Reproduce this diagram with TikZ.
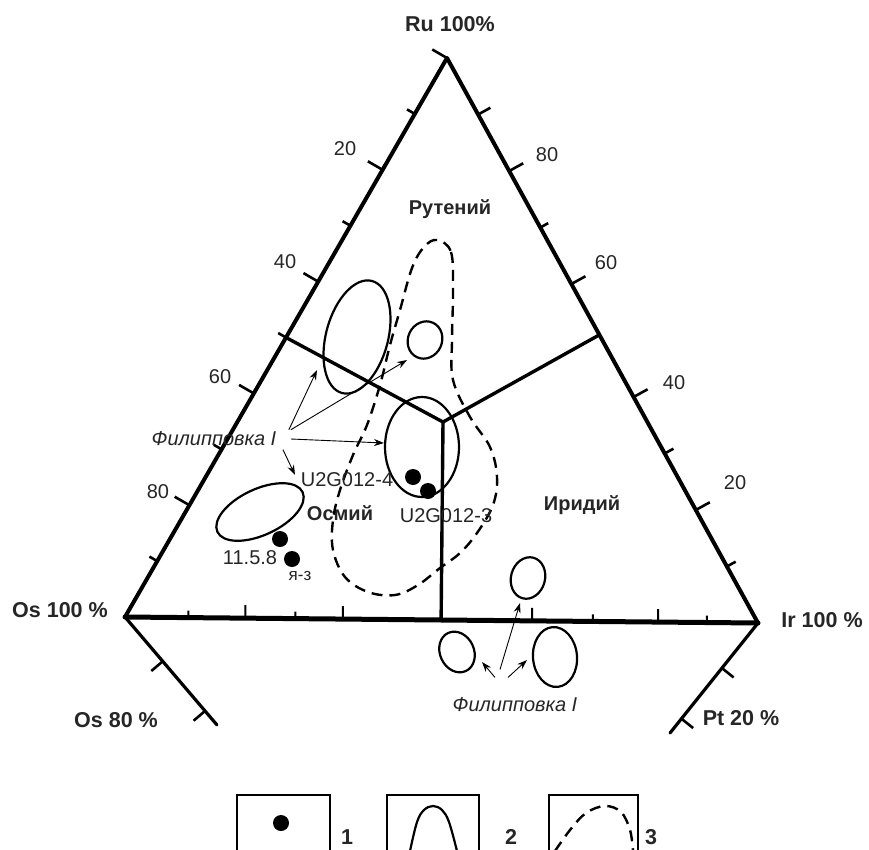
\documentclass[tikz,border=0pt]{standalone}
\usepackage{fontspec}
\setmainfont{Liberation Sans}
\usetikzlibrary{arrows.meta,calc}

\begin{document}
\begin{tikzpicture}[x=1pt,y=-1pt]
        \useasboundingbox (0,0) rectangle (869,850);
        \tikzstyle{every node}=[font=\fontsize{20}{22}\selectfont,text=black!85]
        \tikzset{axis/.style = {line width=4pt,line cap=round,line join=round}}
        \tikzset{border/.style = {line width=3.4pt}}
        \tikzset{tickbig/.style = {line width=2.6pt}}
        \tikzset{ticksmall/.style = {line width=2pt}}
        \tikzset{field/.style = {line width=2.2pt}}
        \tikzset{dashfield/.style = {line width=2.4pt,dash pattern=on 11pt off 7pt}}
        \tikzset{dot/.style = {shape=circle,fill=black,inner sep=0pt,minimum size=16pt}}
        \tikzset{region/.style = {font=\fontsize{20}{22}\selectfont\bfseries}}
        \tikzset{apex/.style = {font=\fontsize{21.5}{22}\selectfont\bfseries}}
        \tikzset{locality/.style = {font=\fontsize{20}{22}\selectfont\itshape}}
        \tikzset{edge/.style = {line width=0.9pt,-{Stealth[length=10pt,width=7pt]}}}
        % vertices
        \coordinate (ru) at (447,58);
        \coordinate (os) at (125,617);
        \coordinate (ir) at (758,623);
        \coordinate (cen) at (443,422);
        \coordinate (ostail) at (217,725);
        \coordinate (irtail) at (670,733);
        % triangle
        \draw[axis] (os) -- (ru) -- (ir);
        \draw[axis,line width=5pt] (os) -- (ir);
        \draw[axis,line width=3.2pt] (os) -- (ostail);
        \draw[axis,line width=3.2pt] (ir) -- (irtail);
        % ticks
        \foreach \t/\l in {0/17,0.1/9,0.2/17,0.3/9,0.4/17,0.5/9,0.6/17,0.7/9,0.8/17,0.9/9} {
          \path ($(ru)!\t!(os)$) coordinate (p);
          \draw[tickbig] (p) -- ($(p)!\l pt!-90:(os)$);
        }
        \foreach \t/\l in {0.1/14,0.2/16,0.3/9,0.4/16,0.6/16,0.7/10,0.8/16,0.9/10} {
          \path ($(ru)!\t!(ir)$) coordinate (p);
          \draw[tickbig] (p) -- ($(p)!\l pt!90:(ir)$);
        }
        \foreach \t/\l in {0.1/7,0.19/13,0.269/7,0.344/13,0.643/13,0.739/7,0.842/13,0.919/7} {
          \path ($(os)!\t!(ir)$) coordinate (p);
          \draw[ticksmall] (p) -- ($(p)!\l pt!90:(ir)$);
        }
        \foreach \t in {0.41,0.87} {
          \path ($(os)!\t!(ostail)$) coordinate (p);
          \draw[tickbig] (p) -- ($(p)!15pt!-90:(ostail)$);
          \path ($(ir)!\t!(irtail)$) coordinate (p);
          \draw[tickbig] (p) -- ($(p)!15pt!90:(irtail)$);
        }
        % field boundaries
        \draw[border] ($(ru)!0.5!(os)$) -- (cen);
        \draw[border] ($(ru)!0.49!(ir)$) -- (cen);
        \draw[border] (cen) -- ($(os)!(cen)!(ir)$);
        % axis labels
        \node[apex] (lru) at (450,24) {Ru 100\%};
        \node[apex] (los) at (60,610) {Os 100 \%};
        \node[apex] (lir) at (822,620) {Ir 100 \%};
        \node[apex] (los80) at (116,720) {Os 80 \%};
        \node[apex] (lpt) at (741,718) {Pt 20 \%};
        \node (l20) at (345,149) {20};
        \node (l40) at (285,262) {40};
        \node (l60) at (220,377) {60};
        \node (l80) at (158,492) {80};
        \node (r80) at (547,155) {80};
        \node (r60) at (606,263) {60};
        \node (r40) at (674,383) {40};
        \node (r20) at (735,483) {20};
        % fields
        \node[region] (ruth) at (450,209) {Рутений};
        \node[region] (osm) at (340,513) {Осмий};
        \node[region] (irid) at (582,505) {Иридий};
        \draw[field,rotate around={-15:(357,337)}] (357,337) ellipse [x radius=31,y radius=58];
        \draw[field,rotate around={-25:(425,340)}] (425,340) ellipse [x radius=17,y radius=19];
        \draw[field] (422,447) ellipse [x radius=37,y radius=50];
        \draw[field,rotate around={25:(260,512)}] (260,512) ellipse [x radius=47,y radius=23];
        \draw[field,rotate around={-15:(528,578)}] (528,578) ellipse [x radius=17,y radius=21];
        \draw[field,rotate around={25:(457,652)}] (457,652) ellipse [x radius=17,y radius=21];
        \draw[field,rotate around={5:(555,657)}] (555,657) ellipse [x radius=22,y radius=30];
        \draw[dashfield] plot[smooth cycle,tension=0.6] coordinates {(437,240) (451,252) (453,290) (452,340)
          (453,380) (470,417) (490,447) (497,477) (493,505) (477,533) (460,553) (440,568) (418,585)
          (395,595) (368,592) (345,577) (333,550) (333,520) (340,490) (353,455) (367,425) (380,385)
          (390,345) (400,310) (412,268) (424,247)};
        % samples
        \node[dot] (s1) at (280,539) {};
        \node[dot] (s2) at (292,559) {};
        \node[dot] (s3) at (413,477) {};
        \node[dot] (s4) at (428,491) {};
        \node (ls1) at (250,558) {11.5.8};
        \node[font=\fontsize{17}{18}\selectfont] (ls2) at (300,576) {я-з};
        \node (ls3) at (347,480) {U2G012-4};
        \node (ls4) at (446,516) {U2G012-3};
        % localities
        \node[locality] (fil1) at (214,439) {Филипповка I};
        \node[locality] (fil2) at (515,705) {Филипповка I};
        \coordinate (tbig) at (317,370);
        \coordinate (tsmall) at (407,360);
        \coordinate (tcen) at (384,443);
        \coordinate (tosm) at (295,475);
        \coordinate (tup) at (520,603);
        \coordinate (tleft) at (482,662);
        \coordinate (tright) at (527,660);
        \draw[edge] ([xshift=9pt]fil1.8) to (tbig);
        \draw[edge] ([xshift=11pt]fil1.8) to (tsmall);
        \draw[edge] ([xshift=11pt]fil1.east) to (tcen);
        \draw[edge] ([xshift=9pt]fil1.-10) to (tosm);
        \draw[edge] ([xshift=-15pt,yshift=25pt]fil2.north) to (tup);
        \draw[edge] ([xshift=-20pt,yshift=17pt]fil2.north) to (tleft);
        \draw[edge] ([xshift=-7pt,yshift=17pt]fil2.north) to (tright);
        % legend
        \draw[field] (237,851) |- (330,795) -- (330,851);
        \draw[field] (387,851) |- (479,795) -- (479,851);
        \draw[field] (549,851) |- (638,795) -- (638,851);
        \node[dot] (k1) at (281,823) {};
        \draw[field] plot[smooth,tension=0.6] coordinates {(410,851) (417,822) (424,810) (433,806)
          (442,810) (449,822) (457,851)};
        \draw[dashfield] plot[smooth,tension=0.6] coordinates {(555,851) (570,830) (586,813) (605,806)
          (621,812) (630,830) (633,851)};
        \node[apex,inner sep=1pt] (k1l) at (347,837) {1};
        \node[apex,inner sep=1pt] (k2l) at (511,837) {2};
        \node[apex,inner sep=1pt] (k3l) at (651,837) {3};
      \end{tikzpicture}
\end{document}
